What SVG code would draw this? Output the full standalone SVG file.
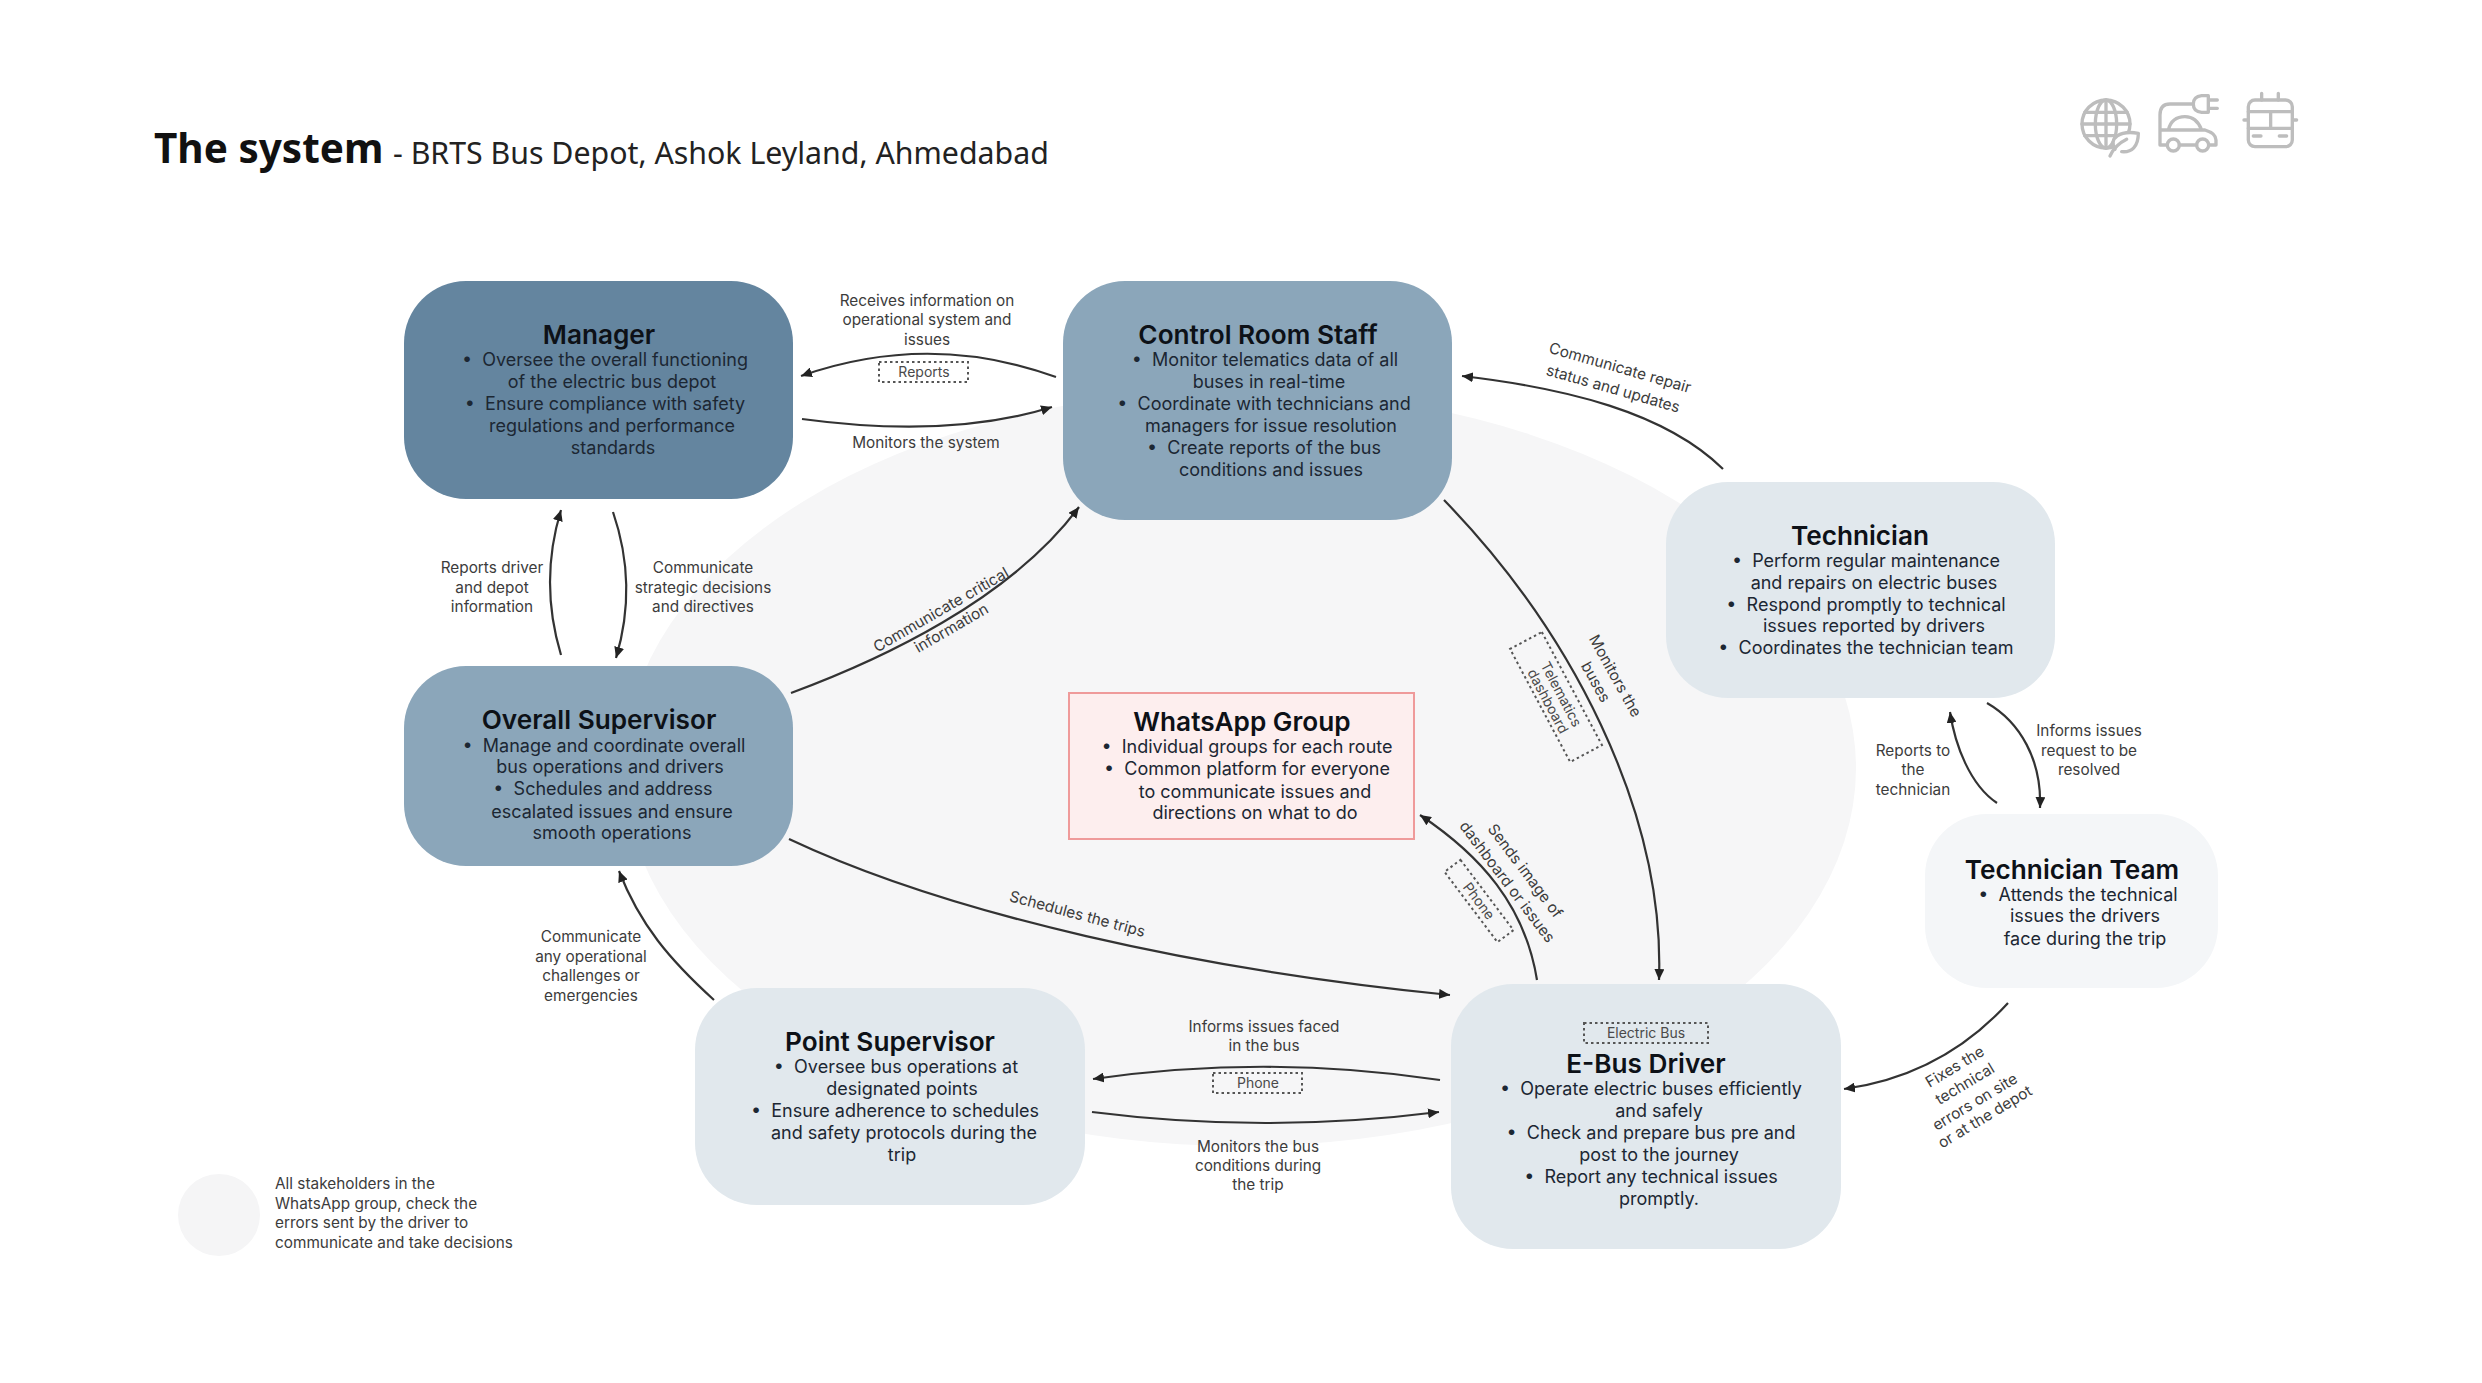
<svg xmlns="http://www.w3.org/2000/svg" width="2482" height="1383" viewBox="0 0 2482 1383">
<style>
text{font-family:Inter,"Liberation Sans",sans-serif;text-anchor:middle}
.t{font-size:26.2px;font-weight:600;fill:#0d1117}
.b{font-size:18px;fill:#1c2733}
.l{font-size:15.35px;fill:#3c3c3c}
.w{font-size:14px;fill:#4a4a4a}
.s{text-anchor:start}
.c{fill:none;stroke:#333;stroke-width:2.2;marker-end:url(#a)}
.d{fill:none;stroke:#555;stroke-width:2;stroke-dasharray:2.5 3}
.i{fill:none;stroke:#bdbdbd;stroke-width:10;stroke-linecap:round;stroke-linejoin:round}
</style>
<defs>
<marker id="a" markerUnits="userSpaceOnUse" markerWidth="12" markerHeight="10" refX="11" refY="5" orient="auto"><path d="M0 0L11 5L0 10Z" fill="#222"/></marker>
</defs>
<rect width="2482" height="1383" fill="#fff"/>
<ellipse cx="1240" cy="768" rx="616" ry="378" fill="#f6f6f7"/>
<g id="title">
<text class="s" x="154" y="163" style="font-family:'Noto Sans',sans-serif;font-size:40.5px;font-weight:700;fill:#111">The system</text>
<text class="s" x="393" y="164" style="font-family:'Noto Sans',sans-serif;font-size:30.3px;fill:#222">- BRTS Bus Depot, Ashok Leyland, Ahmedabad</text>
</g>
<g id="icons" transform="translate(2060 80) scale(.3333)" class="i">
<circle cx="138" cy="132" r="72"/><ellipse cx="138" cy="132" rx="32" ry="72"/>
<path d="M138 60V204M74 97H202M66 132H210M74 167H202"/>
<path d="M165 208C145 175 180 150 235 160C235 200 215 218 185 215" fill="#fff"/><path d="M150 228Q165 195 200 178"/>
<path d="M445 47H425Q400 50 400 72Q400 95 425 97H445ZM445 60H472M445 85H472M400 72H330Q300 72 300 105V195H320M300 150H435Q468 160 468 180V195H448M358 195H410M325 150Q335 110 375 110Q410 110 425 150"/>
<circle cx="340" cy="195" r="18"/><circle cx="428" cy="195" r="18"/>
<rect x="565" y="60" width="132" height="140" rx="20"/>
<path d="M605 40V60M655 40V60M565 95H697M565 145H697M632 95V145M580 168H603M658 168H680M552 120H560M702 120H710"/>
</g>
<g id="connectors">
<path class="c" d="M1056 377Q929 331 801 376"/>
<path class="c" d="M802 419Q950 439 1052 407"/>
<path class="c" d="M561 655Q539 582 561 510"/>
<path class="c" d="M613 512Q638 585 616 658"/>
<path class="c" d="M791 693C880 660 1010 600 1079 507"/>
<path class="c" d="M1723 469C1665 412 1565 388 1462 376"/>
<path class="c" d="M1444 500C1570 630 1665 810 1659 980"/>
<path class="c" d="M1537 980C1525 905 1480 855 1420 815"/>
<path class="c" d="M789 839C950 915 1200 970 1450 995"/>
<path class="c" d="M714 1000C670 960 640 925 619 871"/>
<path class="c" d="M1440 1080Q1267 1054 1093 1079"/>
<path class="c" d="M1092 1112Q1265 1134 1439 1112"/>
<path class="c" d="M2008 1003C1965 1050 1910 1080 1844 1089"/>
<path class="c" d="M1997 803C1970 785 1955 745 1950 712"/>
<path class="c" d="M1987 703C2020 722 2042 760 2040 808"/>
<g class="labels">
<text class="l" x="927" y="306">Receives information on</text>
<text class="l" x="927" y="325">operational system and</text>
<text class="l" x="927" y="345">issues</text>
<rect class="d" x="879" y="362" width="89" height="20"/><text class="w" x="924" y="377">Reports</text>
<text class="l" x="926" y="448">Monitors the system</text>
<text class="l" x="492" y="573">Reports driver</text>
<text class="l" x="492" y="593">and depot</text>
<text class="l" x="492" y="612">information</text>
<text class="l" x="703" y="573">Communicate</text>
<text class="l" x="703" y="593">strategic decisions</text>
<text class="l" x="703" y="612">and directives</text>
<g transform="translate(941 610) rotate(-30)"><text class="l" y="5">Communicate critical</text><text class="l" y="26">information</text></g>
<g transform="translate(1620 368) rotate(16)"><text class="l" y="5">Communicate repair</text><text class="l" x="-1" y="27">status and updates</text></g>
<g transform="translate(1615 676) rotate(61)"><text class="l" y="5">Monitors the</text><text class="l" x="-4" y="25">buses</text></g>
<g transform="translate(1556 697) rotate(62)"><rect class="d" x="-64" y="-18" width="128" height="36"/><text class="w" y="-1">Telematics</text><text class="w" y="14">dashboard</text></g>
<g transform="translate(1525 871) rotate(53)"><text class="l" y="5">Sends image of</text><text class="l" x="-2" y="26">dashboard or issues</text></g>
<g transform="translate(1479 901) rotate(53)"><rect class="d" x="-44" y="-10" width="88" height="20"/><text class="w" y="5">Phone</text></g>
<text class="l" transform="translate(1076 919) rotate(15)">Schedules the trips</text>
<text class="l" x="591" y="942">Communicate</text>
<text class="l" x="591" y="962">any operational</text>
<text class="l" x="591" y="981">challenges or</text>
<text class="l" x="591" y="1001">emergencies</text>
<text class="l" x="1264" y="1032">Informs issues faced</text>
<text class="l" x="1264" y="1051">in the bus</text>
<rect class="d" x="1213" y="1073" width="89" height="20"/><text class="w" x="1258" y="1088">Phone</text>
<text class="l" x="1258" y="1152">Monitors the bus</text>
<text class="l" x="1258" y="1171">conditions during</text>
<text class="l" x="1258" y="1190">the trip</text>
<g transform="translate(1955 1067) rotate(-31)"><text class="l" y="5">Fixes the</text></g>
<g transform="translate(1965 1084) rotate(-31)"><text class="l" y="5">technical</text></g>
<g transform="translate(1975 1102) rotate(-31)"><text class="l" y="5">errors on site</text></g>
<g transform="translate(1985 1117) rotate(-31)"><text class="l" y="5">or at the depot</text></g>
<text class="l" x="2089" y="736">Informs issues</text>
<text class="l" x="2089" y="756">request to be</text>
<text class="l" x="2089" y="775">resolved</text>
<text class="l" x="1913" y="756">Reports to</text>
<text class="l" x="1913" y="775">the</text>
<text class="l" x="1913" y="795">technician</text>
</g>
</g>
<g id="manager">
<rect x="404" y="281" width="389" height="218" rx="62" fill="#64859f"/>
<text class="t" x="599" y="344">Manager</text>
<text class="b" x="605" y="366">•&#160;&#160;Oversee the overall functioning</text>
<text class="b" x="612" y="388">of the electric bus depot</text>
<text class="b" x="605" y="410">•&#160;&#160;Ensure compliance with safety</text>
<text class="b" x="612" y="432">regulations and performance</text>
<text class="b" x="613" y="454">standards</text>
</g>
<g id="control-room-staff">
<rect x="1063" y="281" width="389" height="239" rx="62" fill="#8ba6ba"/>
<text class="t" x="1258" y="344">Control Room Staff</text>
<text class="b" x="1265" y="366">•&#160;&#160;Monitor telematics data of all</text>
<text class="b" x="1269" y="388">buses in real-time</text>
<text class="b" x="1264" y="410">•&#160;&#160;Coordinate with technicians and</text>
<text class="b" x="1271" y="432">managers for issue resolution</text>
<text class="b" x="1264" y="454">•&#160;&#160;Create reports of the bus</text>
<text class="b" x="1271" y="476">conditions and issues</text>
</g>
<g id="technician">
<rect x="1666" y="482" width="389" height="216" rx="62" fill="#e1e8ed"/>
<text class="t" x="1860" y="545">Technician</text>
<text class="b" x="1866" y="567">•&#160;&#160;Perform regular maintenance</text>
<text class="b" x="1874" y="589">and repairs on electric buses</text>
<text class="b" x="1866" y="611">•&#160;&#160;Respond promptly to technical</text>
<text class="b" x="1874" y="632">issues reported by drivers</text>
<text class="b" x="1866" y="654">•&#160;&#160;Coordinates the technician team</text>
</g>
<g id="technician-team">
<rect x="1925" y="814" width="293" height="174" rx="62" fill="#f4f6f8"/>
<text class="t" x="2072" y="879">Technician Team</text>
<text class="b" x="2078" y="901">•&#160;&#160;Attends the technical</text>
<text class="b" x="2085" y="922">issues the drivers</text>
<text class="b" x="2085" y="945">face during the trip</text>
</g>
<g id="overall-supervisor">
<rect x="404" y="666" width="389" height="200" rx="62" fill="#8ba6ba"/>
<text class="t" x="599" y="729">Overall Supervisor</text>
<text class="b" x="604" y="752">•&#160;&#160;Manage and coordinate overall</text>
<text class="b" x="610" y="773">bus operations and drivers</text>
<text class="b" x="603" y="795">•&#160;&#160;Schedules and address</text>
<text class="b" x="612" y="818">escalated issues and ensure</text>
<text class="b" x="612" y="839">smooth operations</text>
</g>
<g id="whatsapp-group">
<rect x="1069" y="693" width="345" height="146" fill="#fdeeee" stroke="#ef9a9a" stroke-width="2"/>
<text class="t" x="1242" y="731">WhatsApp Group</text>
<text class="b" x="1247" y="753">•&#160;&#160;Individual groups for each route</text>
<text class="b" x="1247" y="775">•&#160;&#160;Common platform for everyone</text>
<text class="b" x="1255" y="798">to communicate issues and</text>
<text class="b" x="1255" y="819">directions on what to do</text>
</g>
<g id="point-supervisor">
<rect x="695" y="988" width="390" height="217" rx="62" fill="#e1e8ed"/>
<text class="t" x="890" y="1051">Point Supervisor</text>
<text class="b" x="896" y="1073">•&#160;&#160;Oversee bus operations at</text>
<text class="b" x="902" y="1095">designated points</text>
<text class="b" x="895" y="1117">•&#160;&#160;Ensure adherence to schedules</text>
<text class="b" x="904" y="1139">and safety protocols during the</text>
<text class="b" x="902" y="1161">trip</text>
</g>
<g id="e-bus-driver">
<rect x="1451" y="984" width="390" height="265" rx="62" fill="#e1e8ed"/>
<rect class="d" x="1584" y="1023" width="124" height="20"/><text class="w" x="1646" y="1038">Electric Bus</text>
<text class="t" x="1646" y="1073">E-Bus Driver</text>
<text class="b" x="1651" y="1095">•&#160;&#160;Operate electric buses efficiently</text>
<text class="b" x="1659" y="1117">and safely</text>
<text class="b" x="1651" y="1139">•&#160;&#160;Check and prepare bus pre and</text>
<text class="b" x="1659" y="1161">post to the journey</text>
<text class="b" x="1651" y="1183">•&#160;&#160;Report any technical issues</text>
<text class="b" x="1659" y="1205">promptly.</text>
</g>
<g id="legend">
<circle cx="219" cy="1215" r="41" fill="#f5f5f6"/>
<text class="l s" x="275" y="1189">All stakeholders in the</text>
<text class="l s" x="275" y="1209">WhatsApp group, check the</text>
<text class="l s" x="275" y="1228">errors sent by the driver to</text>
<text class="l s" x="275" y="1248">communicate and take decisions</text>
</g>
</svg>
